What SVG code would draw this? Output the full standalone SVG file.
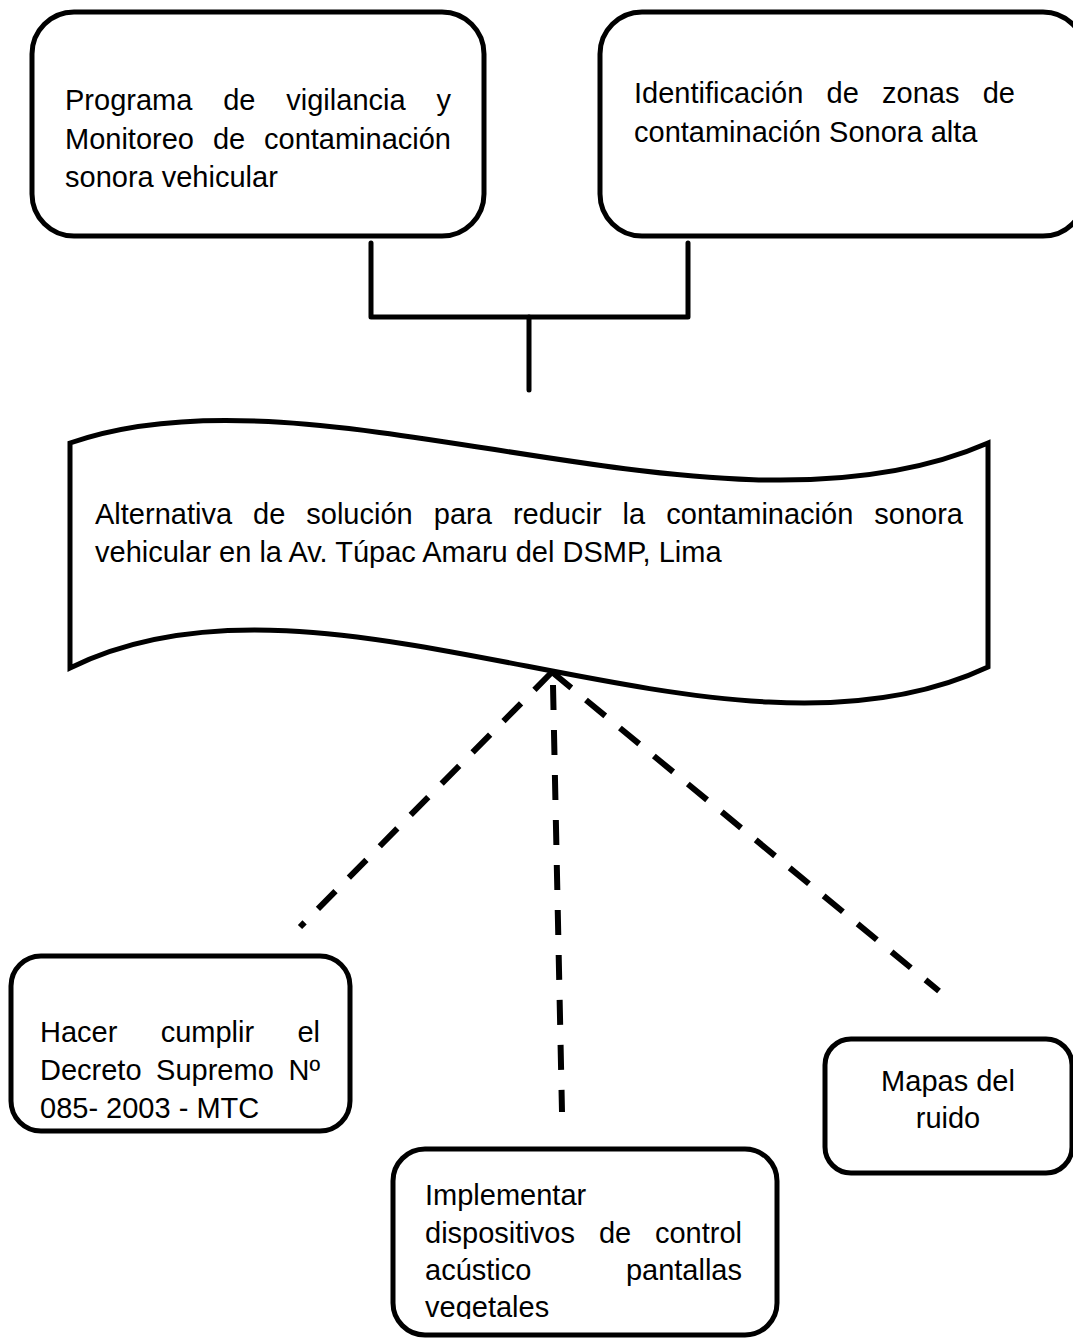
<svg xmlns="http://www.w3.org/2000/svg" width="1073" height="1338" viewBox="0 0 1073 1338">
  <style>
    .box { fill: #ffffff; stroke: #000000; stroke-width: 5; }
    .t { font-family: "Liberation Sans", Arial, sans-serif; font-size: 29px; fill: #000000; }
    .solid { fill: none; stroke: #000000; stroke-width: 5; stroke-linecap: round; stroke-linejoin: round; }
    .dash { fill: none; stroke: #000000; stroke-width: 6; stroke-dasharray: 25 19; }
  </style>
  <defs>
    <clipPath id="clipImpl">
      <rect x="393" y="1149" width="385" height="170"/>
    </clipPath>
  </defs>
  <rect width="1073" height="1338" fill="#ffffff"/>

  <g id="connectors">
    <path class="solid" d="M371,243 V317 H688 V243"/>
    <path class="solid" d="M529,317 V390"/>
    <path class="dash" d="M552,672 L300,927"/>
    <path class="dash" d="M553,685 L562,1112" style="stroke-dasharray:25 20"/>
    <path class="dash" d="M552,672 L939,991"/>
  </g>

  <g id="node-programa">
    <rect class="box" x="32" y="12" width="452" height="224" rx="42"/>
    <text class="t" y="110">
      <tspan x="65">Programa</tspan><tspan x="223.2">de</tspan><tspan x="286.3">vigilancia</tspan><tspan x="451" text-anchor="end">y</tspan>
    </text>
    <text class="t" y="149">
      <tspan x="65">Monitoreo</tspan><tspan x="212.9">de</tspan><tspan x="451" text-anchor="end">contaminación</tspan>
    </text>
    <text class="t" x="65" y="187">sonora vehicular</text>
  </g>

  <g id="node-identificacion">
    <rect class="box" x="600" y="12" width="485" height="224" rx="42"/>
    <text class="t" y="103">
      <tspan x="634">Identificación</tspan><tspan x="826.5">de</tspan><tspan x="882">zonas</tspan><tspan x="1015" text-anchor="end">de</tspan>
    </text>
    <text class="t" x="634" y="142">contaminación Sonora alta</text>
  </g>

  <g id="node-alternativa">
    <path class="box" d="M70,443 C320,355 720,560 988,443 L988,667 C720,793 330,538 70,668 Z"/>
    <text class="t" y="524">
      <tspan x="95">Alternativa</tspan><tspan x="253.1">de</tspan><tspan x="306.3">solución</tspan><tspan x="433.8">para</tspan><tspan x="512.9">reducir</tspan><tspan x="622.6">la</tspan><tspan x="666.3">contaminación</tspan><tspan x="963" text-anchor="end">sonora</tspan>
    </text>
    <text class="t" x="95" y="562">vehicular en la Av. Túpac Amaru del DSMP, Lima</text>
  </g>

  <g id="node-decreto">
    <rect class="box" x="11" y="956" width="339" height="175" rx="30"/>
    <text class="t" y="1042">
      <tspan x="40">Hacer</tspan><tspan x="160.7">cumplir</tspan><tspan x="320" text-anchor="end">el</tspan>
    </text>
    <text class="t" y="1080">
      <tspan x="40">Decreto</tspan><tspan x="156.1">Supremo</tspan><tspan x="320" text-anchor="end">Nº</tspan>
    </text>
    <text class="t" x="40" y="1118">085- 2003 - MTC</text>
  </g>

  <g id="node-implementar">
    <rect class="box" x="393" y="1149" width="384" height="186" rx="32"/>
    <g clip-path="url(#clipImpl)">
      <text class="t" x="425" y="1205">Implementar</text>
      <text class="t" y="1243">
        <tspan x="425">dispositivos</tspan><tspan x="598.9">de</tspan><tspan x="742" text-anchor="end">control</tspan>
      </text>
      <text class="t" y="1280">
        <tspan x="425">acústico</tspan><tspan x="742" text-anchor="end">pantallas</tspan>
      </text>
      <text class="t" x="425" y="1317">vegetales</text>
    </g>
  </g>

  <g id="node-mapas">
    <rect class="box" x="825" y="1039" width="247" height="134" rx="26"/>
    <text class="t" x="948" y="1091" text-anchor="middle">Mapas del</text>
    <text class="t" x="948" y="1128" text-anchor="middle">ruido</text>
  </g>
</svg>
